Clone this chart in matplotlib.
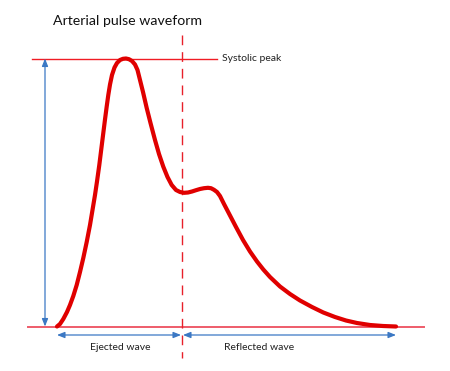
import matplotlib
matplotlib.use("Agg")
import matplotlib.pyplot as plt

# time and pressure (arbitrary units)
time = [0, 3, 6.3, 10, 13, 16.3, 19.7, 23, 26.3, 29.7, 33, 35.5, 38, 40,
        42.3, 44.3, 46.3, 48, 49.7, 51.3, 53, 55, 57.5, 60, 63, 66, 69, 72,
        75, 78, 80.5, 83, 86, 89.7, 93.5, 98, 102, 106.3, 110.5, 114.7, 119,
        123, 127, 131, 135, 139, 143, 147, 151, 154, 157, 160, 163, 167, 173,
        179, 186, 193, 200, 206.3, 213, 223, 233, 243, 255, 266.3, 278, 289,
        300, 313, 326, 339]
pressure = [0, 2.5, 7.5, 14.5, 21.5, 30.5, 41.5, 54.5, 68.5, 84.5, 101.5,
            116.5, 131.5, 145, 161.5, 177.5, 193.5, 207, 220, 231.5, 242,
            251.5, 259, 263.5, 266.5, 267.7, 268, 267.3, 265.5, 262, 256.5,
            246.5, 234.5, 218.5, 203.5, 186.5, 172.5, 159.8, 149.5, 141.5,
            136.5, 134.5, 133.7, 134, 135, 136.3, 137.5, 138.3, 138.7, 138.3,
            136.7, 134.5, 130.5, 122.5, 111, 99.5, 86.5, 75, 65, 57, 49.5, 40,
            32.5, 26, 19.5, 14, 9.5, 6, 3.5, 1.5, 0.5, 0]
notch_time = 125
labels = ["Ejected wave", "Reflected wave"]
label_time = [63.5, 202]

red = "#e00000"
blue = "#3b78c4"
plt.rcParams['font.family'] = ['Lato', 'DejaVu Sans']

fig = plt.figure(figsize=(4.5, 3.71), dpi=100)
ax = fig.add_axes([0, 0, 1, 1])
ax.set_xlim(-57, 393)
ax.set_ylim(-44.5, 326.5)
ax.set_axis_off()

peak = max(pressure)
base = min(pressure)
t0, t1 = time[0], time[-1]

# reference lines
ax.plot([t0 - 25, notch_time + 35], [peak, peak], color="#f01c24", lw=1.0)
ax.plot([t0 - 29, t1 + 28], [base, base], color="#ee5c6a", lw=1.4)
ax.plot([notch_time, notch_time], [peak + 23.5, base - 31.5],
        color="#e8202a", lw=1.0, dashes=(7, 5))

# waveform
ax.plot(time, pressure, color=red, lw=3.0, solid_capstyle="round",
        solid_joinstyle="round", zorder=5)

ax.text(notch_time + 40, peak, "Systolic peak", fontsize=7.5,
        color="#222222", va="center", ha="left")

arrow = dict(arrowstyle="<|-|>,head_length=0.45,head_width=0.18",
             color=blue, lw=0.9, shrinkA=0, shrinkB=0)
ax.annotate("", xy=(t0 - 12, peak), xytext=(t0 - 12, base), arrowprops=arrow)
ax.annotate("", xy=(t0, base - 8.5), xytext=(notch_time - 1, base - 8.5),
            arrowprops=arrow)
ax.annotate("", xy=(notch_time + 1, base - 8.5), xytext=(t1, base - 8.5),
            arrowprops=arrow)

for lt, lab in zip(label_time, labels):
    ax.text(lt, base - 20.5, lab, fontsize=7.5, color="#222222",
            ha="center", va="center")

fig.text(53 / 450, 1 - 21 / 371, "Arterial pulse waveform", fontsize=10.2,
         color="#111111", ha="left", va="center")

fig.savefig("out.png", dpi=100)
